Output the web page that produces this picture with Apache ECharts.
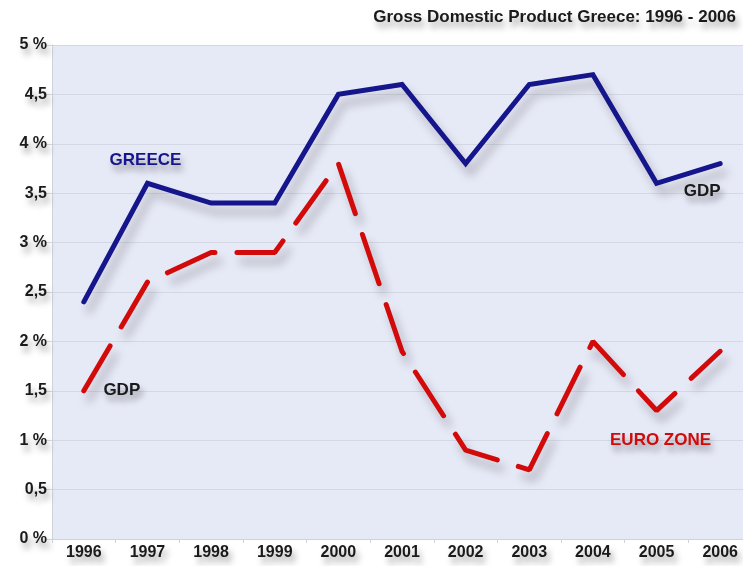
<!DOCTYPE html>
<html>
<head>
<meta charset="utf-8">
<script src="https://cdn.jsdelivr.net/npm/echarts@6/dist/echarts.min.js"></script>
<style>
html,body{margin:0;padding:0;background:#fff;}
#chart{width:743px;height:566px;}
</style>
</head>
<body>
<div id="chart"></div>
<script>
var years = ['1996','1997','1998','1999','2000','2001','2002','2003','2004','2005','2006'];
var greece = [2.4, 3.6, 3.4, 3.4, 4.5, 4.6, 3.8, 4.6, 4.7, 3.6, 3.8];
var euroZone = [1.5, 2.6, 2.9, 2.9, 3.8, 1.9, 0.9, 0.7, 2.0, 1.3, 1.9];
var yTicks = [0, 0.5, 1, 1.5, 2, 2.5, 3, 3.5, 4, 4.5, 5];

var FONT = '"Liberation Sans", Arial, sans-serif';
var shadowText = {
  textShadowColor: 'rgba(0,0,0,0.35)',
  textShadowBlur: 6,
  textShadowOffsetX: 3,
  textShadowOffsetY: 6
};
function lbl(color, extra) {
  var o = Object.assign({
    show: true, color: color, fontFamily: FONT, fontWeight: 'bold', fontSize: 17
  }, shadowText);
  return Object.assign(o, extra || {});
}

var chart = echarts.init(document.getElementById('chart'));
chart.setOption({
  animation: false,
  backgroundColor: '#ffffff',
  title: {
    text: 'Gross Domestic Product Greece: 1996 - 2006',
    right: 2, top: 4,
    textStyle: Object.assign({
      fontFamily: FONT, fontWeight: 'bold', fontSize: 17, color: '#1a1a1a'
    }, shadowText)
  },
  grid: {
    left: 52, top: 45, bottom: 27, width: 700,
    outerBoundsMode: 'none', containLabel: false,
    show: true, backgroundColor: '#e6e9f6', borderWidth: 0
  },
  xAxis: {
    type: 'category',
    data: years,
    boundaryGap: true,
    axisLine: {show: true, lineStyle: {color: '#cfd3dd', width: 1}},
    axisTick: {show: true, length: 4, lineStyle: {color: '#cfd3dd'}},
    axisLabel: Object.assign({
      color: '#1a1a1a', fontFamily: FONT, fontWeight: 'bold', fontSize: 16, margin: 6
    }, shadowText),
    splitLine: {show: false}
  },
  yAxis: {
    type: 'value',
    min: 0, max: 5, interval: 0.5,
    axisLine: {show: true, lineStyle: {color: '#cfd3dd', width: 1}},
    axisTick: {show: true, length: 6, lineStyle: {color: '#d4d8e2'}},
    axisLabel: Object.assign({
      color: '#1a1a1a', fontFamily: FONT, fontWeight: 'bold', fontSize: 16, margin: 5,
      formatter: function (v) {
        if (yTicks.indexOf(v) < 0) return '';
        return (Math.round(v) === v) ? (v + ' %') : String(v).replace('.', ',');
      }
    }, shadowText),
    splitLine: {show: true, lineStyle: {color: '#d4d8e4', width: 1}}
  },
  series: [
    {
      name: 'Greece',
      type: 'line',
      data: greece,
      symbol: 'none',
      lineStyle: {
        color: '#16168c', width: 5, cap: 'round', join: 'miter',
        shadowColor: 'rgba(0,0,0,0.25)', shadowBlur: 10, shadowOffsetX: 5, shadowOffsetY: 9
      },
      z: 3,
      markPoint: {
        symbol: 'circle', symbolSize: 0,
        data: [
          {coord: ['1997', 3.83], label: lbl('#16168c', {formatter: 'GREECE', offset: [-2, 0]})},
          {coord: ['2006', 3.52], label: lbl('#1a1a1a', {formatter: 'GDP', offset: [-18, 0]})}
        ]
      }
    },
    {
      name: 'Euro Zone',
      type: 'line',
      data: euroZone,
      symbol: 'none',
      lineStyle: {
        color: '#d20a0a', width: 5, type: [52, 22], cap: 'round',
        shadowColor: 'rgba(0,0,0,0.25)', shadowBlur: 10, shadowOffsetX: 5, shadowOffsetY: 9
      },
      z: 2,
      markPoint: {
        symbol: 'circle', symbolSize: 0,
        data: [
          {coord: ['1996', 1.5], label: lbl('#1a1a1a', {formatter: 'GDP', offset: [38, 0]})},
          {coord: ['2005', 1.0], label: lbl('#d20a0a', {formatter: 'EURO ZONE', offset: [4, 0]})}
        ]
      }
    }
  ]
});
</script>
</body>
</html>
